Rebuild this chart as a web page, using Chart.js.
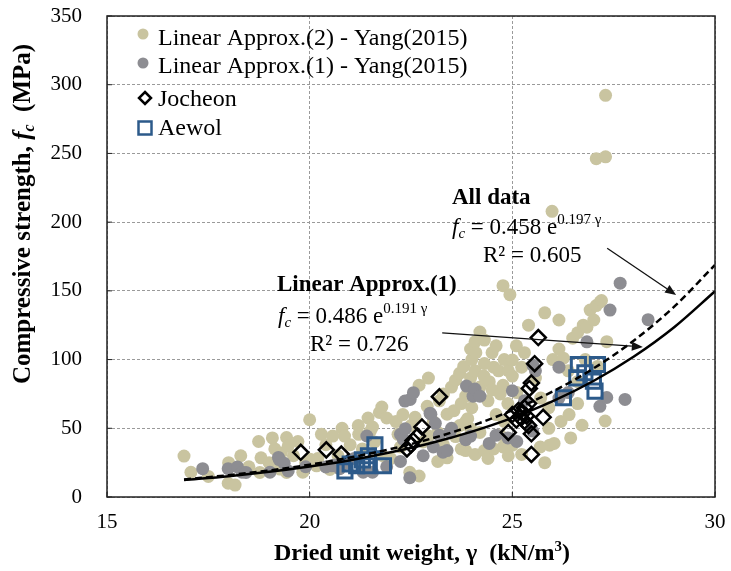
<!DOCTYPE html>
<html>
<head>
<meta charset="utf-8">
<script src="https://cdn.jsdelivr.net/npm/chart.js@4.4.1/dist/chart.umd.min.js"></script>
<style>
  html, body { margin: 0; padding: 0; background: #fff; }
  #wrap { width: 731px; height: 571px; }
</style>
</head>
<body>
<div id="wrap"><canvas id="chart" width="731" height="571"></canvas></div>
<script>
// Yang (2015) data, split by approximation as [unit weight, strength]
const yang2Points = [
  [16.9,29.8],[17.07,18],[17.5,15],[17.99,10],[18.16,8.7],[18.0,25],[18.3,30],[18.5,22],[18.74,40.4],
  [18.8,28.5],[18.77,17.9],[19.0,25],[19.08,43],[19.14,35],[19.3,32],[19.43,43.3],[19.47,37.2],
  [19.27,20.3],[19.43,17.9],[19.6,30],[19.71,40.4],[19.83,18],[19.9,25],[20.0,56.2],[20.01,27.5],
  [20.17,22.7],[20.2,28],[20.29,45.6],[20.4,38],[20.5,20],[20.57,44.3],[20.7,30],[20.8,50],[20.86,44.3],
  [21.0,38],[21.2,52],[21.21,45.6],[21.3,35],[21.44,57.5],[21.5,48],[21.55,50.9],[21.6,40],[21.72,61.5],
  [21.78,65.4],[21.8,30],[21.9,57.5],[22.0,28],[22.13,54.9],[22.18,45.6],[22.24,36.4],[22.3,60],
  [22.47,18],[22.5,52],[22.6,58],[22.7,15.3],[22.7,81.3],[22.8,40],[22.9,66],[22.93,86.5],[22.93,44.3],
  [23.05,54.9],[23.16,47],[23.16,25.9],[23.2,70],[23.3,38],[23.3,75],[23.39,60.2],[23.39,28.5],[23.5,80],
  [23.56,62.8],[23.6,44],[23.6,85],[23.7,90],[23.7,52],[23.74,68],[23.74,35],[23.8,95],[23.85,73.4],
  [23.85,33.8],[23.85,54.9],[23.9,57],[23.97,86.5],[23.97,107.7],[23.97,49.6],[24.0,100],[24.0,65],
  [24.08,91.8],[24.08,112.9],[24.08,31],[24.1,105],[24.2,80],[24.2,120],[24.2,47],[24.3,88],[24.31,97.1],
  [24.31,114.2],[24.31,33.8],[24.4,70],[24.4,28],[24.43,83.9],[24.5,105],[24.5,78],[24.54,94.5],
  [24.54,35],[24.6,60],[24.6,110],[24.66,91.8],[24.7,75],[24.7,45],[24.77,81.3],[24.77,153.8],
  [24.77,36.4],[24.8,55],[24.8,100],[24.89,68],[24.9,30],[24.9,92],[24.94,147.2],[25.0,37.7],[25.0,99.7],
  [25.0,88],[25.1,110],[25.11,76],[25.23,94.5],[25.23,31],[25.3,105],[25.4,125],[25.57,86.5],[25.69,36.4],
  [25.7,72],[25.8,134],[25.8,25],[25.9,65],[25.9,50],[25.92,37.7],[25.98,207.9],[26.0,100],[26.03,39],
  [26.15,128.8],[26.15,107.7],[26.2,55],[26.26,101],[26.38,91.8],[26.4,60],[26.44,43],[26.49,115.6],
  [26.61,119.5],[26.61,83.9],[26.61,68],[26.72,52.2],[26.75,125],[26.8,100],[26.84,123.5],[26.92,136],
  [27.01,128.8],[27.07,139.3],[27.1,95],[27.17,142],[27.2,143],[27.33,113],[27.29,55.3],[27.07,246.2],
  [27.3,247.5],[27.3,292.3]
];
const yang1Points = [
  [17.36,20.6],[17.99,20.6],[18.22,21.9],[18.33,18],[18.43,17.9],[19.02,18],[19.23,28.8],[19.25,27.2],
  [19.37,24.5],[19.47,19],[19.9,22],[20.4,21.9],[20.54,22.7],[20.63,23.2],[20.74,20.6],[20.92,24.5],
  [21.1,28],[21.32,18],[21.41,44.4],[21.55,18],[21.9,22],[22.24,45.6],[22.24,25.9],[22.31,42],
  [22.35,69.8],[22.36,49.6],[22.47,14],[22.48,71],[22.56,75.9],[22.8,30],[22.97,61],[22.99,60.2],
  [23.05,36.4],[23.1,53.6],[23.2,45],[23.29,32.6],[23.39,33.8],[23.46,47],[23.5,50],[23.85,41.7],
  [23.87,80.7],[23.97,44.3],[24.03,73.4],[24.08,78.6],[24.2,73.4],[24.43,39],[24.6,45],[24.89,43],
  [25.0,77.3],[25.11,40.4],[25.3,70],[25.5,48],[25.51,95.8],[25.57,91.8],[26.15,94.5],[26.15,72],
  [26.38,76],[26.84,112.9],[27.16,66],[27.33,72.4],[27.41,136],[27.66,155.6],[27.78,71],[28.35,129]
];
const jocheonPoints = [
  [19.78,32.5],[20.41,34.3],[20.78,31.2],[22.4,35],[22.5,38],[22.55,41],[22.66,44.3],[22.77,51],
  [23.2,73],[24.9,47],[25.0,60],[25.1,56],[25.15,63],[25.2,58],[25.25,61],[25.3,55],[25.3,65],
  [25.35,59],[25.4,52],[25.4,68],[25.42,79],[25.47,83],[25.47,46],[25.47,31],[25.55,97],[25.64,116],
  [25.76,58]
];
const aewolPoints = [
  [20.87,19],[21.0,24],[21.16,22.7],[21.3,27],[21.41,22.7],[21.45,30],[21.61,38],[21.82,22.7],
  [26.26,72.2],[26.59,86.7],[26.63,96.4],[26.79,90.4],[27.0,84.3],[27.04,77],[27.1,96.4]
];

// exponential trend lines as drawn in the figure
const fitX = [16.9, 18, 19, 20, 21, 22, 23, 24, 25, 26, 27, 28, 29, 30];
const fitApprox1Y = [12.3, 15.1, 18.3, 22.2, 26.8, 32.5, 39.3, 47.6, 57.6, 69.7, 84.4, 102.2, 123.7, 149.7];
const fitAllDataY = [12.8, 15.9, 19.3, 23.5, 28.7, 34.9, 42.5, 51.8, 63.1, 76.8, 93.5, 113.9, 138.7, 168.9];

const xTicks = [15, 20, 25, 30];
const yTicks = [0, 50, 100, 150, 200, 250, 300, 350];

const legendLabels = ['Linear Approx.(2) - Yang(2015)', 'Linear Approx.(1) - Yang(2015)', 'Jocheon', 'Aewol'];

const TAN = '#c9c4a0';
const GRAY = '#8d8d92';
const BLUE = '#2c5a8a';
const SERIF = '"Liberation Serif", "Times New Roman", serif';

const toXY = (pts) => pts.map(p => ({x: p[0], y: p[1]}));
const fitData = (ys) => fitX.map((x, i) => ({x: x, y: ys[i]}));

function drawRuns(ctx, runs, x, y) {
    let cx = x;
    for (const r of runs) {
        ctx.font = r[1];
        ctx.fillText(r[0], cx, y + (r[2] || 0));
        cx += ctx.measureText(r[0]).width;
    }
    return cx - x;
}

function runsWidth(ctx, runs) {
    let w = 0;
    for (const r of runs) {
        ctx.font = r[1];
        w += ctx.measureText(r[0]).width;
    }
    return w;
}

function arrow(ctx, x1, y1, x2, y2) {
    const a = Math.atan2(y2 - y1, x2 - x1);
    const len = 11, half = 4.5;
    ctx.beginPath();
    ctx.moveTo(x1, y1);
    ctx.lineTo(x2 - Math.cos(a) * len, y2 - Math.sin(a) * len);
    ctx.lineWidth = 1.3;
    ctx.strokeStyle = '#111';
    ctx.stroke();
    ctx.beginPath();
    ctx.moveTo(x2, y2);
    ctx.lineTo(x2 - Math.cos(a) * len - Math.sin(a) * half, y2 - Math.sin(a) * len + Math.cos(a) * half);
    ctx.lineTo(x2 - Math.cos(a) * len + Math.sin(a) * half, y2 - Math.sin(a) * len - Math.cos(a) * half);
    ctx.closePath();
    ctx.fillStyle = '#111';
    ctx.fill();
}

const decorations = {
    id: 'decorations',
    afterDraw(chart) {
        const ctx = chart.ctx;
        const area = chart.chartArea;
        const sx = chart.scales.x, sy = chart.scales.y;
        ctx.save();

        // plot frame and inside tick marks
        ctx.setLineDash([]);
        ctx.strokeStyle = '#222';
        ctx.lineWidth = 1.5;
        ctx.strokeRect(area.left, area.top, area.right - area.left, area.bottom - area.top);
        ctx.lineWidth = 1;
        ctx.beginPath();
        xTicks.forEach(v => {
            const p = sx.getPixelForValue(v);
            ctx.moveTo(p, area.bottom);
            ctx.lineTo(p, area.bottom - 5);
        });
        yTicks.forEach(v => {
            const p = sy.getPixelForValue(v);
            ctx.moveTo(area.left, p);
            ctx.lineTo(area.left + 5, p);
        });
        ctx.stroke();

        ctx.fillStyle = '#000';
        ctx.textAlign = 'left';
        ctx.textBaseline = 'alphabetic';

        // legend
        const lf = '24px ' + SERIF;
        const rows = [45, 73, 106, 135];
        ctx.fillStyle = TAN;
        ctx.beginPath(); ctx.arc(143, 34, 5.5, 0, Math.PI * 2); ctx.fill();
        ctx.fillStyle = GRAY;
        ctx.beginPath(); ctx.arc(143, 63, 5.5, 0, Math.PI * 2); ctx.fill();
        ctx.strokeStyle = '#000';
        ctx.lineWidth = 2.5;
        ctx.beginPath();
        ctx.moveTo(145, 92); ctx.lineTo(151, 98); ctx.lineTo(145, 104); ctx.lineTo(139, 98); ctx.closePath();
        ctx.stroke();
        ctx.strokeStyle = BLUE;
        ctx.strokeRect(138.5, 121.5, 13, 13);
        ctx.fillStyle = '#000';
        legendLabels.forEach((t, i) => {
            ctx.font = lf;
            ctx.fillText(t, 158, rows[i]);
        });

        // trend line annotations
        const big = '23px ' + SERIF;
        const bold = 'bold 23px ' + SERIF;
        const it = 'italic 23px ' + SERIF;
        const sub = 'italic 15px ' + SERIF;
        const sup = '15px ' + SERIF;

        ctx.font = bold;
        ctx.fillText('All data', 452, 204);
        drawRuns(ctx, [['f', it], ['c', sub, 4], [' = 0.458 e', big], ['0.197 \u03b3', sup, -10]], 452, 234);
        ctx.font = big;
        ctx.fillText('R\u00b2 = 0.605', 483, 262);

        ctx.font = bold;
        ctx.fillText('Linear Approx.(1)', 277, 291);
        drawRuns(ctx, [['f', it], ['c', sub, 4], [' = 0.486 e', big], ['0.191 \u03b3', sup, -10]], 278, 323);
        ctx.font = big;
        ctx.fillText('R\u00b2 = 0.726', 310, 351);

        arrow(ctx, sx.getPixelForValue(27.34), sy.getPixelForValue(181), sx.getPixelForValue(29.04), sy.getPixelForValue(147));
        arrow(ctx, sx.getPixelForValue(23.27), sy.getPixelForValue(119.4), sx.getPixelForValue(28.22), sy.getPixelForValue(109.2));

        // axis titles
        ctx.fillStyle = '#000';
        const tb = 'bold 24px ' + SERIF;
        const xRuns = [['Dried unit weight, \u03b3  (kN/m', tb], ['3', 'bold 15px ' + SERIF, -9], [')', tb]];
        const xw = runsWidth(ctx, xRuns);
        drawRuns(ctx, xRuns, 422 - xw / 2, 560);

        const yb = 'bold 25px ' + SERIF;
        const yRuns = [['Compressive strength, ', yb], ['f', 'bold italic 25px ' + SERIF], ['c', 'bold italic 16px ' + SERIF, 4], ['  (MPa)', yb]];
        const yw = runsWidth(ctx, yRuns);
        ctx.translate(30, 214);
        ctx.rotate(-Math.PI / 2);
        drawRuns(ctx, yRuns, -yw / 2, 0);

        ctx.restore();
    }
};

const ctx = document.getElementById('chart').getContext('2d');
const chart = new Chart(ctx, {
    type: 'scatter',
    data: {
        datasets: [
            {
                label: legendLabels[0],
                data: toXY(yang2Points),
                backgroundColor: TAN,
                borderWidth: 0,
                pointRadius: 6.5,
                order: 5
            },
            {
                label: legendLabels[1],
                data: toXY(yang1Points),
                backgroundColor: GRAY,
                borderWidth: 0,
                pointRadius: 6.5,
                order: 4
            },
            {
                label: legendLabels[2],
                data: toXY(jocheonPoints),
                pointStyle: 'rectRot',
                backgroundColor: 'rgba(0,0,0,0)',
                borderColor: '#000',
                borderWidth: 2.5,
                pointRadius: 7.5,
                order: 3
            },
            {
                label: legendLabels[3],
                data: toXY(aewolPoints),
                pointStyle: 'rect',
                backgroundColor: 'rgba(0,0,0,0)',
                borderColor: BLUE,
                borderWidth: 3,
                pointRadius: 10,
                order: 2
            },
            {
                label: 'Linear Approx.(1) fit',
                data: fitData(fitApprox1Y),
                showLine: true,
                borderColor: '#000',
                borderWidth: 2.5,
                pointRadius: 0,
                cubicInterpolationMode: 'monotone',
                order: 1
            },
            {
                label: 'All data fit',
                data: fitData(fitAllDataY),
                showLine: true,
                borderColor: '#000',
                borderWidth: 2.5,
                borderDash: [7, 4],
                pointRadius: 0,
                cubicInterpolationMode: 'monotone',
                order: 0
            }
        ]
    },
    options: {
        responsive: false,
        animation: false,
        events: [],
        layout: {padding: {top: 16, right: 16, left: 0, bottom: 0}},
        plugins: {
            legend: {display: false},
            tooltip: {enabled: false}
        },
        scales: {
            x: {
                type: 'linear',
                min: 15,
                max: 30,
                afterFit: (s) => { s.height = 74; s.paddingLeft = 0; s.paddingRight = 0; },
                afterBuildTicks: (s) => { s.ticks = xTicks.map(v => ({value: v})); },
                ticks: {
                    color: '#000',
                    font: {family: SERIF, size: 21},
                    padding: 13,
                    maxRotation: 0
                },
                grid: {color: '#9a9a9a', lineWidth: 1, drawTicks: false},
                border: {display: false, dash: [3, 2]}
            },
            y: {
                min: 0,
                max: 350,
                afterFit: (s) => { s.width = 107; s.paddingTop = 0; s.paddingBottom = 0; },
                afterBuildTicks: (s) => { s.ticks = yTicks.map(v => ({value: v})); },
                ticks: {
                    color: '#000',
                    font: {family: SERIF, size: 21},
                    padding: 25
                },
                grid: {color: '#9a9a9a', lineWidth: 1, drawTicks: false},
                border: {display: false, dash: [3, 2]}
            }
        }
    },
    plugins: [decorations]
});
</script>
</body>
</html>
